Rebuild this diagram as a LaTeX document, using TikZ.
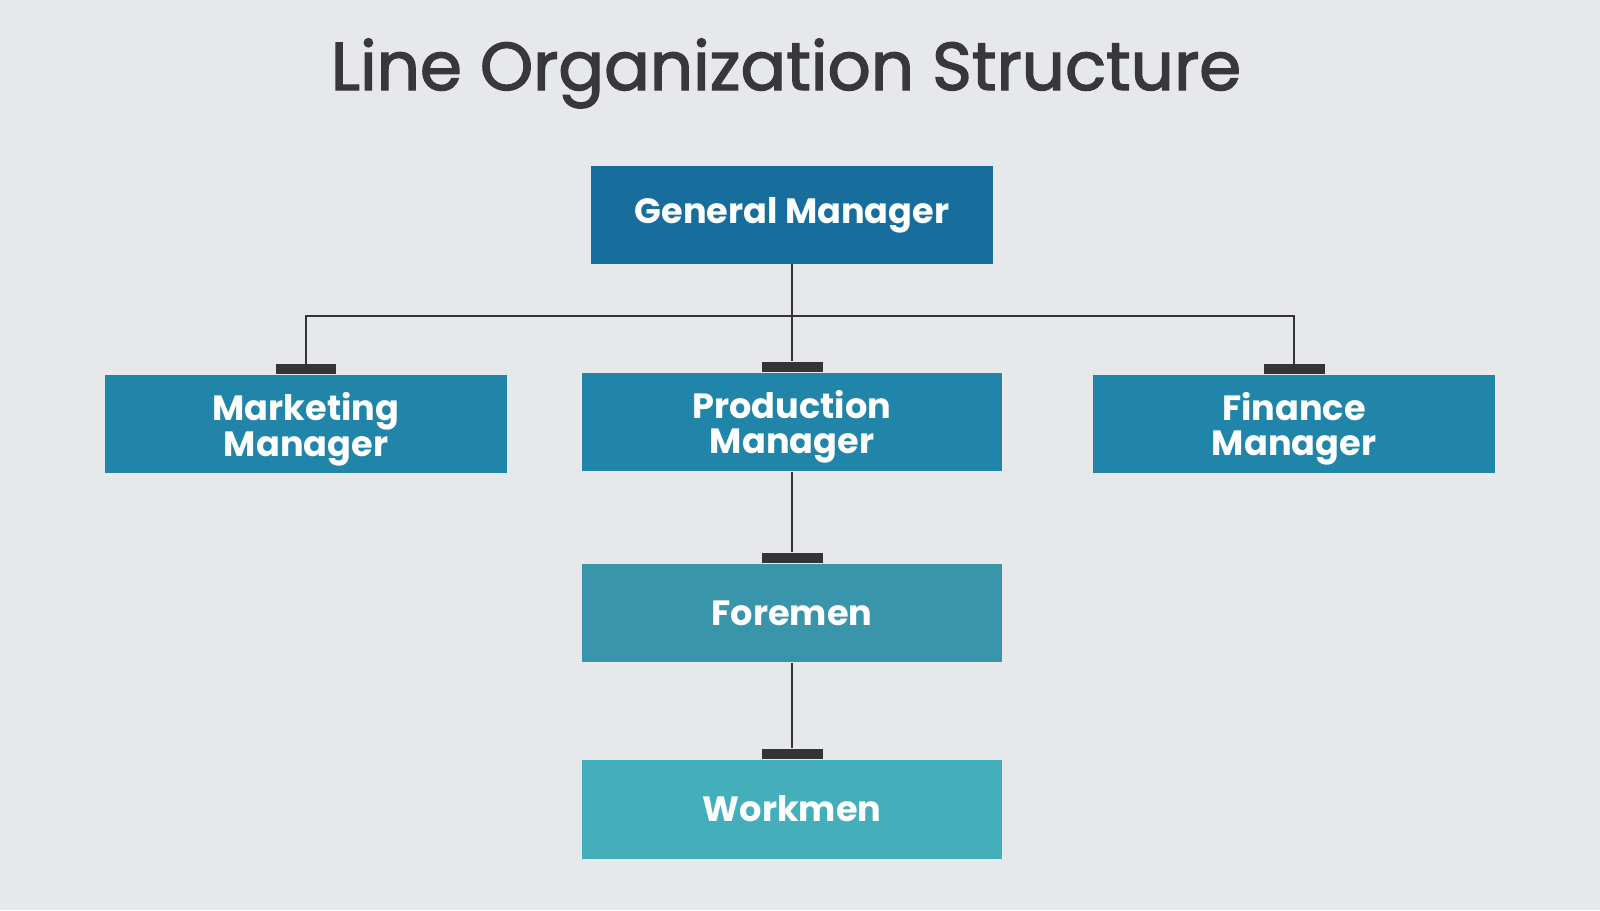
\documentclass[tikz,border=0pt]{standalone}
\usepackage{fontspec}
\setmainfont{Poppins}
\newfontfamily\titlefont[FakeBold=2]{Poppins}
\usetikzlibrary{positioning}
\definecolor{bgcol}{HTML}{E7E8EA}
\definecolor{topcol}{HTML}{176E9C}
\definecolor{midcol}{HTML}{2085A8}
\definecolor{forecol}{HTML}{3895AA}
\definecolor{workcol}{HTML}{45AEBB}
\definecolor{barcol}{HTML}{343436}
\definecolor{titlecol}{HTML}{38383A}
\tikzset{
  box/.style={minimum width=8.06cm, minimum height=1.96cm, inner sep=0pt,
    text=white, align=center, font=\bfseries\fontsize{20}{19.5}\selectfont},
  widebox/.style={box, minimum width=8.42cm, minimum height=1.98cm},
  twoline/.style={text depth=-1.4pt},
  bar/.style={fill=barcol, minimum width=1.22cm, minimum height=0.2cm, inner sep=0pt},
  link/.style={draw=barcol, line width=1.1pt}
}
\begin{document}
\begin{tikzpicture}[x=0.02cm, y=-0.02cm]
    % background
    \fill[bgcol] (0,0) rectangle (1600,910);
    \useasboundingbox (0,0) rectangle (1600,910);

    % title
    \node[anchor=base, text=titlecol, font=\titlefont\fontsize{38.5}{38.5}\selectfont] (title) at (786,90) {Line Organization Structure};

    % boxes
    \node[box, fill=topcol] (gm) at (792,215) {General Manager};
    \node[box, twoline, fill=midcol] (mm) at (306,424) {Marketing\\Manager};
    \node[widebox, twoline, fill=midcol] (pm) at (792,422) {Production\\Manager};
    \node[box, twoline, fill=midcol] (fm) at (1294,424) {Finance\\Manager};
    \node[widebox, fill=forecol] (fore) at (792,613) {Foremen};
    \node[widebox, fill=workcol] (work) at (792,809) {Workmen};

    % bars on top of the boxes
    \node[bar, above=0pt of mm.north] (mmbar) {};
    \node[bar, above=0pt of pm.north] (pmbar) {};
    \node[bar, above=0pt of fm.north] (fmbar) {};
    \node[bar, above=0pt of fore.north] (forebar) {};
    \node[bar, above=0pt of work.north] (workbar) {};

    % lines
    \coordinate (split) at (792,316);
    \draw[link] (gm.south) -- (pmbar.north);
    \draw[link] (mmbar.north) |- (split) -| (fmbar.north);
    \draw[link] (pm.south) -- (forebar.north);
    \draw[link] (fore.south) -- (workbar.north);
\end{tikzpicture}
\end{document}
